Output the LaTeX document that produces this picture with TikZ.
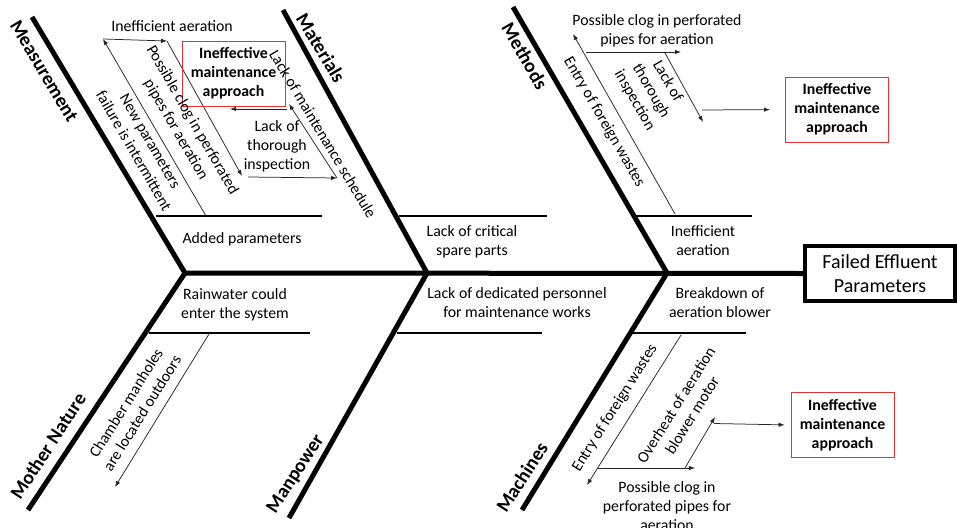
\documentclass[tikz,border=0pt]{standalone}
\usepackage{fontspec}
\setmainfont{Carlito}
\usetikzlibrary{arrows.meta}
\definecolor{boxred}{RGB}{232,48,48}
\begin{document}
\begin{tikzpicture}[x=1pt,y=-1pt,
  bone/.style={line width=5pt, line join=miter},
  branch/.style={line width=2.2pt},
  arr/.style={line width=0.75pt, draw=black!85, -{Latex[length=6pt,width=4.5pt]}},
  txt/.style={font=\fontsize{15.8}{19}\selectfont, align=center, inner sep=0pt},
  cat/.style={font=\fontsize{19.5}{23}\selectfont\bfseries, inner sep=0pt},
  redbox/.style={draw=boxred, line width=0.9pt, minimum width=103pt, minimum height=65pt,
    align=center, font=\fontsize{15.8}{19}\selectfont\bfseries, inner sep=0pt},
]
\useasboundingbox (0,0) rectangle (957,527);

% skeleton coordinates
\coordinate (J1) at (185,273);
\coordinate (J2) at (427,273);
\coordinate (J3) at (667,273);
\coordinate (B1t) at (32,17);
\coordinate (B2t) at (283,10);
\coordinate (B3t) at (513,7);
\coordinate (B4b) at (28,510);
\coordinate (B5b) at (289,518);
\coordinate (B6b) at (522,510);

% head
\node[draw, line width=4pt, minimum width=150pt, minimum height=55pt, align=center,
  inner sep=0pt, font=\fontsize{20}{24.5}\selectfont] (head) at (880,273.5) {Failed Effluent\\Parameters};

% spine and bones
\draw[bone] (J1) -- (head.west);
\draw[bone] (B1t) -- (J1) -- (B4b);
\draw[bone] (B2t) -- (J2) -- (B5b);
\draw[bone] (B3t) -- (J3) -- (B6b);

% branch lines
\coordinate (h1a) at (156,216); \coordinate (h1b) at (322,216);
\coordinate (h2a) at (399,216); \coordinate (h2b) at (547,216);
\coordinate (h3a) at (636,216); \coordinate (h3b) at (752,216);
\coordinate (h4a) at (149,333); \coordinate (h4b) at (310,333);
\coordinate (h5a) at (397,333); \coordinate (h5b) at (542,333);
\coordinate (h6a) at (633,333); \coordinate (h6b) at (746,333);
\draw[branch] (h1a) -- (h1b);
\draw[branch] (h2a) -- (h2b);
\draw[branch] (h3a) -- (h3b);
\draw[branch] (h4a) -- (h4b);
\draw[branch] (h5a) -- (h5b);
\draw[branch] (h6a) -- (h6b);

% category labels
\node[cat, rotate=-59] (lMeas) at (44,71) {Measurement};
\node[cat, rotate=-59] (lMat) at (321,48) {Materials};
\node[cat, rotate=-60] (lMeth) at (525,56) {Methods};
\node[cat, rotate=57] (lMN) at (48,446) {Mother Nature};
\node[cat, rotate=57] (lMan) at (296,474) {Manpower};
\node[cat, rotate=57] (lMach) at (522,477) {Machines};

% branch texts
\node[txt] (tAdded) at (242,239) {Added parameters};
\node[txt] (tSpare) at (472,242) {Lack of critical\\spare parts};
\node[txt] (tIneff) at (703,241) {Inefficient\\aeration};
\node[txt] (tRain) at (235,305) {Rainwater could\\enter the system};
\node[txt] (tPers) at (517,303) {Lack of dedicated personnel\\for maintenance works};
\node[txt] (tBreak) at (720,303) {Breakdown of\\aeration blower};

% ---- Measurement / Materials sub-causes
\coordinate (m1) at (206,216);
\coordinate (m2) at (103,39);
\coordinate (m3) at (167,41);
\coordinate (m4) at (242,176);
\coordinate (m5) at (248,177);
\coordinate (m6) at (337,178);
\coordinate (m7) at (289,104);
\coordinate (m8s) at (287,109);
\coordinate (m8) at (230,109);
\draw[arr] (m1) -- (m2);
\draw[arr] (m2) -- (m3);
\draw[arr] (m3) -- (m4);
\draw[arr] (m5) -- (m6);
\draw[arr] (m6) -- (m7);
\draw[arr] (m8s) -- (m8);

\node[redbox] (box1) at (233.5,73.5) {Ineffective\\maintenance\\approach};
\node[txt] (tIA1) at (172,26) {Inefficient aeration};
\node[txt, rotate=-60] (tPC1) at (184,125) {Possible clog in perforated\\pipes for aeration};
\node[txt, rotate=-60] (tNP) at (142,146) {New parameters\\failure is intermittent};
\node[txt, rotate=-59] (tLMS) at (323,134) {Lack of maintenance schedule};
\node[txt] (tLTI1) at (277,146) {Lack of\\thorough\\inspection};

% ---- Methods sub-causes
\coordinate (a1) at (675,214);
\coordinate (a2) at (573,34);
\coordinate (a3) at (586,52);
\coordinate (a4) at (681,52);
\coordinate (a5) at (665,53);
\coordinate (a6) at (703,122);
\coordinate (a7) at (702,110);
\draw[arr] (a1) -- (a2);
\draw[arr] (a3) -- (a4);
\draw[arr] (a5) -- (a6);
\node[redbox] (box3) at (837,109.5) {Ineffective\\maintenance\\approach};
\draw[arr, shorten >=15pt] (a7) -- (box3.west);
\node[txt] (tPC2) at (657,31) {Possible clog in perforated\\pipes for aeration};
\node[txt, rotate=-60] (tEFW1) at (604,122) {Entry of foreign wastes};
\node[txt, rotate=-60] (tLTI2) at (651,91) {Lack of\\thorough\\inspection};

% ---- Machines sub-causes
\coordinate (c1) at (681,335);
\coordinate (c2) at (587,485);
\coordinate (c3) at (598,468);
\coordinate (c4) at (695,468);
\coordinate (c5) at (685,468);
\coordinate (c6) at (715,417);
\coordinate (c7) at (714,423.5);
\draw[arr] (c1) -- (c2);
\draw[arr] (c3) -- (c4);
\draw[arr] (c5) -- (c6);
\node[redbox] (box4) at (842.5,425) {Ineffective\\maintenance\\approach};
\draw[arr, shorten >=6pt] (c7) -- (box4.west);
\node[txt, rotate=58] (tEFW2) at (615,408) {Entry of foreign wastes};
\node[txt, rotate=58] (tOAB) at (684,410) {Overheat of aeration\\blower motor};
\node[txt] (tPC3) at (667,506) {Possible clog in\\perforated pipes for\\aeration};

% ---- Mother Nature sub-cause
\coordinate (n1) at (209,334);
\coordinate (n2) at (115,487);
\draw[arr] (n1) -- (n2);
\node[txt, rotate=58] (tCM) at (134,408) {Chamber manholes\\are located outdoors};
\end{tikzpicture}
\end{document}
